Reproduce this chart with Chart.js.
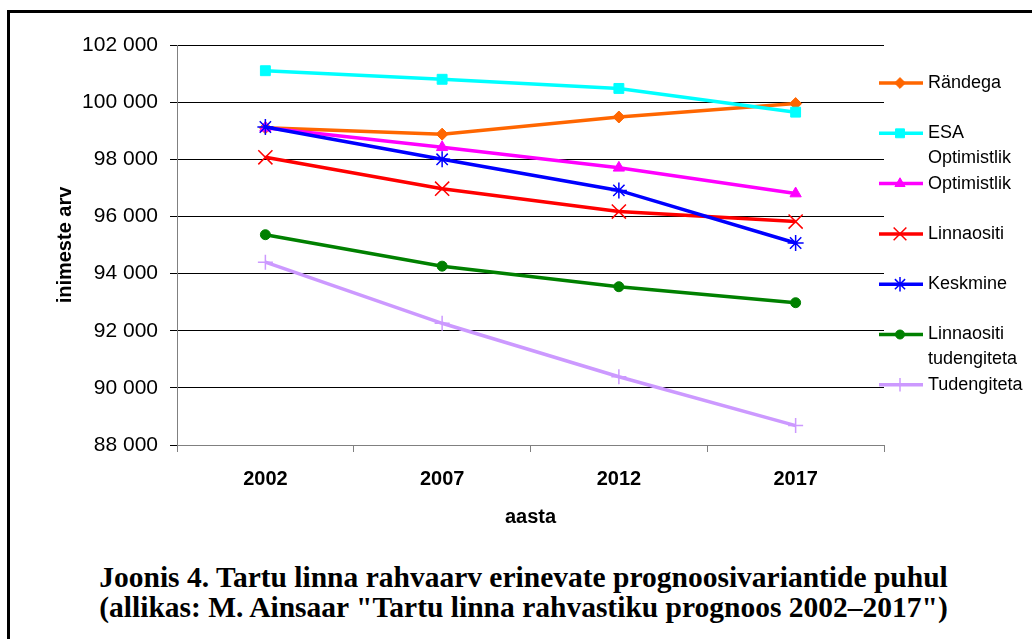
<!DOCTYPE html>
<html>
<head>
<meta charset="utf-8">
<script src="https://cdn.jsdelivr.net/npm/chart.js@4.4.1/dist/chart.umd.min.js"></script>
<style>
  body { margin: 0; background: #fff; width: 1032px; height: 639px; overflow: hidden; position: relative; }
  #raam { position: absolute; left: 7px; top: 10px; width: 1040px; height: 700px; border: 3px solid #000; box-sizing: border-box; }
  #Grafik { position: absolute; left: 0; top: 0; }
  #pealdis { position: absolute; left: 0; width: 1047px; top: 562px; text-align: center;
             font-family: 'Liberation Serif', 'Times New Roman', serif; font-weight: bold; font-size: 29.5px; line-height: 30px; color: #000; }
</style>
</head>
<body>
<div id="raam"></div>
<canvas id="Grafik" width="1032" height="540"></canvas>
<div id="pealdis">Joonis 4. Tartu linna rahvaarv erinevate prognoosivariantide puhul<br>(allikas: M. Ainsaar "Tartu linna rahvastiku prognoos 2002–2017")</div>
<script>
const aastad = ['2002', '2007', '2012', '2017'];
const yTikid = [88000, 90000, 92000, 94000, 96000, 98000, 100000, 102000];

const randega        = [99100, 98880, 99480, 99950];
const esaOptimistlik = [101100, 100800, 100480, 99650];
const optimistlik    = [99100, 98420, 97700, 96800];
const linnaositi     = [98070, 96970, 96170, 95820];
const keskmine       = [99130, 98000, 96910, 95070];
const linnaositiTud  = [95360, 94260, 93540, 92980];
const tudengiteta    = [94400, 92260, 90390, 88680];

const seeriad = [
    { nimi: ['Rändega'],                 andmed: randega,        varv: '#FF6600', kuju: 'rectRot',  r: 6,   taide: true },
    { nimi: ['ESA', 'Optimistlik'],      andmed: esaOptimistlik, varv: '#00FFFF', kuju: 'rect',     r: 7,   taide: true },
    { nimi: ['Optimistlik'],             andmed: optimistlik,    varv: '#FF00FF', kuju: 'triangle', r: 6.5, taide: true },
    { nimi: ['Linnaositi'],              andmed: linnaositi,     varv: '#FF0000', kuju: 'crossRot', r: 10,  taide: false },
    { nimi: ['Keskmine'],                andmed: keskmine,       varv: '#0000FF', kuju: 'star',     r: 8,   taide: false },
    { nimi: ['Linnaositi', 'tudengiteta'], andmed: linnaositiTud, varv: '#008000', kuju: 'circle',  r: 5,   taide: true },
    { nimi: ['Tudengiteta'],             andmed: tudengiteta,    varv: '#CC99FF', kuju: 'cross',    r: 7.5, taide: false }
];

function tuhanded(v) {
    return String(v).replace(/\B(?=(\d{3})+(?!\d))/g, ' ');
}

// oma legend paremal, kaherealiste nimedega
const legendPlugin = {
    id: 'legendPlugin',
    afterDraw(chart) {
        const ctx = chart.ctx;
        ctx.save();
        seeriad.forEach((s, i) => {
            const y = 83 + i * 50.3;
            ctx.strokeStyle = s.varv;
            ctx.lineWidth = 3.5;
            ctx.beginPath();
            ctx.moveTo(879, y);
            ctx.lineTo(923, y);
            ctx.stroke();
            ctx.fillStyle = s.varv;
            ctx.lineWidth = s.taide ? 1 : 1.5;
            Chart.helpers.drawPoint(ctx, { pointStyle: s.kuju, radius: s.r * 0.9, borderWidth: s.taide ? 1 : 1.5 }, 900, y);
            ctx.fillStyle = '#000';
            ctx.font = '18px "Liberation Sans", Arial, sans-serif';
            ctx.textBaseline = 'middle';
            ctx.textAlign = 'left';
            s.nimi.forEach((rida, j) => ctx.fillText(rida, 928, y + j * 25));
        });
        ctx.restore();
    }
};

const grafik = new Chart(document.getElementById('Grafik'), {
    type: 'line',
    data: {
        labels: aastad,
        datasets: seeriad.map((s, i) => ({
            label: s.nimi.join(' '),
            data: s.andmed,
            borderColor: s.varv,
            backgroundColor: s.varv,
            borderWidth: 3.5,
            pointStyle: s.kuju,
            pointRadius: s.r,
            pointBorderWidth: s.taide ? 1 : 1.5,
            pointBackgroundColor: s.varv,
            pointBorderColor: s.varv,
            tension: 0,
            fill: false,
            order: seeriad.length - i
        }))
    },
    options: {
        responsive: false,
        animation: false,
        events: [],
        layout: { padding: { left: 0, top: 45, right: 148, bottom: 0 } },
        plugins: { legend: { display: false }, tooltip: { enabled: false } },
        scales: {
            x: {
                offset: true,
                afterFit: s => { s.height = 95; },
                grid: { drawOnChartArea: false, offset: true, tickLength: 7, color: '#808080' },
                border: { color: '#808080', width: 1 },
                ticks: { color: '#000', padding: 15, font: { family: '"Liberation Sans", Arial', size: 20, weight: 'bold' } },
                title: { display: true, text: 'aasta', color: '#000', padding: { top: 0, bottom: 11 },
                         font: { family: '"Liberation Sans", Arial', size: 20, weight: 'bold' } }
            },
            y: {
                min: 88000,
                max: 102000,
                afterFit: s => { s.width = 177; },
                afterBuildTicks: s => { s.ticks = yTikid.map(v => ({ value: v })); },
                grid: { color: '#000', tickLength: 7 },
                border: { color: '#808080', width: 1 },
                ticks: { color: '#000', padding: 12, callback: v => tuhanded(v),
                         font: { family: '"Liberation Sans", Arial', size: 21 } },
                title: { display: true, text: 'inimeste arv', color: '#000', padding: { top: 53, bottom: 0 },
                         font: { family: '"Liberation Sans", Arial', size: 20, weight: 'bold' } }
            }
        }
    },
    plugins: [legendPlugin]
});
</script>
</body>
</html>
